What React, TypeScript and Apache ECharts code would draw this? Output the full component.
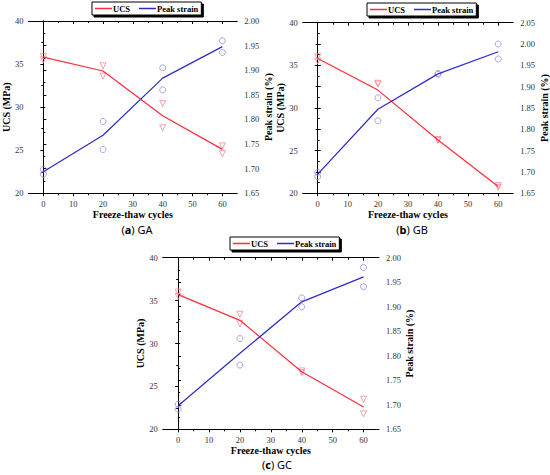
import React, { useEffect, useRef } from "react";
import * as echarts from "echarts";

// ---- data ----
const cycles = [0, 20, 40, 60];
const xMajorTicks = [0, 10, 20, 30, 40, 50, 60];
const xMinorTicks = [5, 15, 25, 35, 45, 55];

const gaUcsFit = [35.8, 34.2, 29.0, 25.1];
const gaUcsTest1 = [35.9, 34.8, 30.4, 25.5];
const gaUcsTest2 = [35.5, 33.6, 27.6, 24.6];
const gaStrainFit = [1.694, 1.768, 1.884, 1.948];
const gaStrainTest1 = [1.699, 1.796, 1.905, 1.96];
const gaStrainTest2 = [1.689, 1.739, 1.86, 1.936];

const gbUcsFit = [35.8, 32.1, 26.25, 20.8];
const gbUcsTest1 = [36.0, 32.9, 26.3, 20.9];
const gbUcsTest2 = [35.5, 32.8, 26.2, 20.7];
const gbStrainFit = [1.695, 1.847, 1.93, 1.982];
const gbStrainTest1 = [1.699, 1.874, 1.931, 2.0];
const gbStrainTest2 = [1.689, 1.82, 1.929, 1.965];

const gcUcsFit = [35.7, 32.7, 26.7, 22.6];
const gcUcsTest1 = [36.0, 33.4, 26.8, 23.5];
const gcUcsTest2 = [35.5, 32.3, 26.6, 21.8];
const gcStrainFit = [1.698, 1.805, 1.91, 1.961];
const gcStrainTest1 = [1.701, 1.835, 1.918, 1.98];
const gcStrainTest2 = [1.691, 1.781, 1.9, 1.941];

const panelLetters = ["a", "b", "c"];
const panelNames = ["GA", "GB", "GC"];
const strainMax = [2.0, 2.05, 2.0];

const panels = [
  { ucsFit: gaUcsFit, ucs1: gaUcsTest1, ucs2: gaUcsTest2, stFit: gaStrainFit, st1: gaStrainTest1, st2: gaStrainTest2 },
  { ucsFit: gbUcsFit, ucs1: gbUcsTest1, ucs2: gbUcsTest2, stFit: gbStrainFit, st1: gbStrainTest1, st2: gbStrainTest2 },
  { ucsFit: gcUcsFit, ucs1: gcUcsTest1, ucs2: gcUcsTest2, stFit: gcStrainFit, st1: gcStrainTest1, st2: gcStrainTest2 },
];

// ---- layout ----
const grids = [
  { left: 25.7, top: 21, width: 211.6, height: 172.3 },
  { left: 302.7, top: 22.7, width: 213, height: 170.6 },
  { left: 162.7, top: 257.7, width: 216.3, height: 171.6 },
];
const legendPos = [
  { left: 92, top: 2 },
  { left: 367, top: 3 },
  { left: 230, top: 237 },
];
const captionPos = [
  { x: 137, y: 229 },
  { x: 412, y: 229 },
  { x: 277, y: 464 },
];

const RED = "#ff2d3a";
const BLUE = "#2a2ac8";
const RED_PT = "#f28a96";
const BLUE_PT = "#8e8ee8";
const SERIF = "'Liberation Serif', 'DejaVu Serif', serif";

function buildOption() {
  const xAxis: any[] = [];
  const yAxis: any[] = [];
  const series: any[] = [];
  const legend: any[] = [];
  const graphic: any[] = [];

  grids.forEach((g, i) => {
    const base = {
      type: "value",
      gridIndex: i,
      min: -5,
      max: 65,
      splitLine: { show: false },
    };
    xAxis.push({
      ...base,
      position: "bottom",
      axisLine: { show: true, lineStyle: { color: "#000", width: 1 } },
      axisTick: { show: true, customValues: xMajorTicks, length: 3, lineStyle: { color: "#000" } },
      axisLabel: {
        show: true,
        customValues: xMajorTicks,
        margin: 6,
        fontFamily: SERIF,
        fontSize: 8.5,
        color: "#333",
      },
      name: "Freeze-thaw cycles",
      nameLocation: "middle",
      nameGap: 16,
      nameTextStyle: { fontFamily: SERIF, fontWeight: "bold", fontSize: 10, color: "#000" },
    });
    xAxis.push({
      ...base,
      position: "bottom",
      axisLine: { show: false },
      axisTick: { show: true, customValues: xMinorTicks, length: 2, lineStyle: { color: "#000" } },
      axisLabel: { show: false },
    });
    xAxis.push({
      ...base,
      position: "top",
      axisLine: { show: true, lineStyle: { color: "#000", width: 1 } },
      axisTick: { show: true, inside: true, customValues: xMajorTicks, length: 3, lineStyle: { color: "#000" } },
      axisLabel: { show: false },
    });
    xAxis.push({
      ...base,
      position: "top",
      axisLine: { show: false },
      axisTick: { show: true, inside: true, customValues: xMinorTicks, length: 2, lineStyle: { color: "#000" } },
      axisLabel: { show: false },
    });

    yAxis.push({
      type: "value",
      gridIndex: i,
      position: "left",
      min: 20,
      max: 40,
      interval: 5,
      splitLine: { show: false },
      axisLine: { show: true, lineStyle: { color: "#000", width: 1 } },
      axisTick: { show: true, length: 3, lineStyle: { color: "#000" } },
      minorTick: { show: true, splitNumber: 2, length: 2, lineStyle: { color: "#000" } },
      minorSplitLine: { show: false },
      axisLabel: { margin: 5, fontFamily: SERIF, fontSize: 8.5, color: "#333" },
      name: "UCS (MPa)",
      nameLocation: "middle",
      nameRotate: 90,
      nameGap: 16,
      nameTextStyle: { fontFamily: SERIF, fontWeight: "bold", fontSize: 10, color: "#000" },
    });
    yAxis.push({
      type: "value",
      gridIndex: i,
      position: "right",
      min: 1.65,
      max: strainMax[i],
      interval: 0.05,
      splitLine: { show: false },
      axisLine: { show: true, lineStyle: { color: "#000", width: 1 } },
      axisTick: { show: true, length: 3, lineStyle: { color: "#000" } },
      minorTick: { show: true, splitNumber: 2, length: 2, lineStyle: { color: "#000" } },
      minorSplitLine: { show: false },
      axisLabel: {
        margin: 7,
        fontFamily: SERIF,
        fontSize: 8.5,
        color: "#333",
        formatter: (v: number) => v.toFixed(2),
      },
      name: "Peak strain (%)",
      nameLocation: "middle",
      nameRotate: 90,
      nameGap: 25,
      nameTextStyle: { fontFamily: SERIF, fontWeight: "bold", fontSize: 10, color: "#000" },
    });

    const p = panels[i];
    const xi = i * 4;
    const yl = i * 2;
    const yr = i * 2 + 1;
    const pairs = (vals: number[]) => cycles.map((c, k) => [c, vals[k]]);

    series.push({
      type: "scatter",
      name: "UCS test",
      xAxisIndex: xi,
      yAxisIndex: yl,
      symbol: "triangle",
      symbolRotate: 180,
      symbolSize: 6,
      itemStyle: { color: "rgba(0,0,0,0)", borderColor: RED_PT, borderWidth: 1 },
      data: [...pairs(p.ucs1), ...pairs(p.ucs2)],
      z: 2,
    });
    series.push({
      type: "scatter",
      name: "Strain test",
      xAxisIndex: xi,
      yAxisIndex: yr,
      symbol: "circle",
      symbolSize: 6,
      itemStyle: { color: "rgba(0,0,0,0)", borderColor: BLUE_PT, borderWidth: 1 },
      data: [...pairs(p.st1), ...pairs(p.st2)],
      z: 2,
    });
    series.push({
      type: "line",
      name: "UCS",
      xAxisIndex: xi,
      yAxisIndex: yl,
      symbol: "none",
      lineStyle: { color: RED, width: 1.2 },
      itemStyle: { color: RED },
      data: pairs(p.ucsFit),
      z: 3,
    });
    series.push({
      type: "line",
      name: "Peak strain",
      xAxisIndex: xi,
      yAxisIndex: yr,
      symbol: "none",
      lineStyle: { color: BLUE, width: 1.2 },
      itemStyle: { color: BLUE },
      data: pairs(p.stFit),
      z: 3,
    });

    legend.push({
      data: [
        { name: "UCS", icon: "rect", itemStyle: { color: RED } },
        { name: "Peak strain", icon: "rect", itemStyle: { color: BLUE } },
      ],
      left: legendPos[i].left,
      top: legendPos[i].top,
      orient: "horizontal",
      itemWidth: 17,
      itemHeight: 1.5,
      itemGap: 9,
      padding: [2, 3, 2, 3],
      backgroundColor: "#fff",
      borderColor: "#000",
      borderWidth: 1,
      borderRadius: 0,
      shadowColor: "#000",
      shadowOffsetX: 2,
      shadowOffsetY: 2,
      shadowBlur: 0,
      selectedMode: false,
      textStyle: { fontFamily: SERIF, fontWeight: "bold", fontSize: 8.5, color: "#000", padding: [0, 0, 0, -4] },
    });

    graphic.push({
      type: "text",
      x: captionPos[i].x,
      y: captionPos[i].y,
      style: {
        text: `{p|(}{b|${panelLetters[i]}}{p|) ${panelNames[i]}}`,
        align: "center",
        verticalAlign: "middle",
        rich: {
          p: { fontFamily: "'Noto Sans', sans-serif", fontSize: 11, fill: "#000" },
          b: { fontFamily: "'Noto Sans', sans-serif", fontSize: 11, fontWeight: "bold", fill: "#000" },
        },
      },
    });
  });

  return {
    animation: false,
    backgroundColor: "#fff",
    grid: grids.map((g) => ({ ...g, containLabel: false })),
    xAxis,
    yAxis,
    legend,
    series,
    graphic,
  };
}

export default function App() {
  const ref = useRef<HTMLDivElement>(null);
  useEffect(() => {
    if (!ref.current) return;
    const chart = echarts.init(ref.current, undefined, { renderer: "svg" });
    chart.setOption(buildOption() as any);
    return () => chart.dispose();
  }, []);
  return (
    <div
      ref={ref}
      style={{ position: "absolute", left: 0, top: 0, width: 550, height: 475, background: "#fff" }}
    />
  );
}
